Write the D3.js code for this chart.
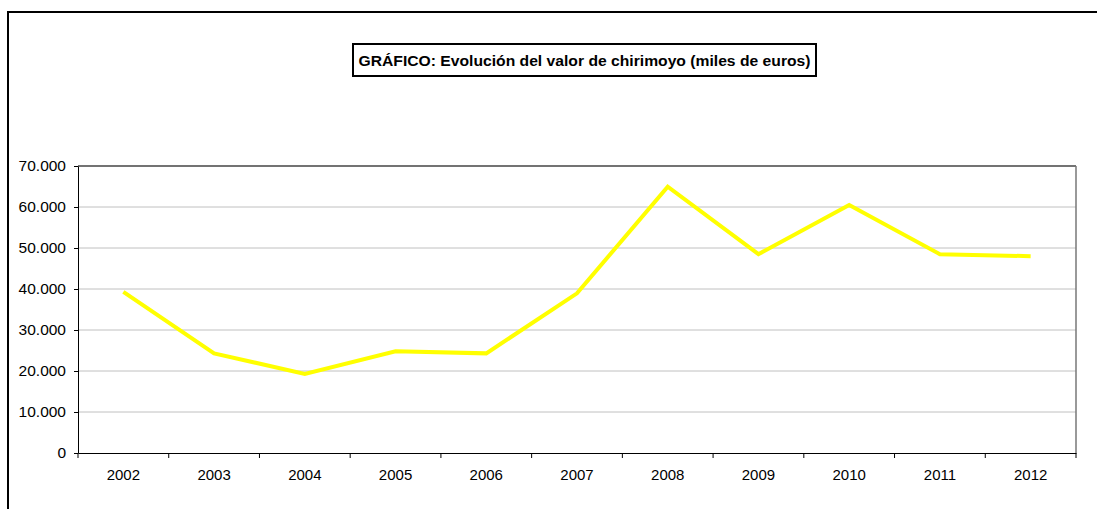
<!DOCTYPE html>
<html>
<head>
<meta charset="utf-8">
<script src="https://cdn.jsdelivr.net/npm/d3@7"></script>
<style>
  body { margin: 0; background: #fff; }
  svg { display: block; font-family: "Liberation Sans", Arial, sans-serif; }
</style>
</head>
<body>
<svg id="chart" width="1097" height="509"></svg>
<script>
const titleText = "GRÁFICO: Evolución del valor de chirimoyo (miles de euros)";
const years = ["2002","2003","2004","2005","2006","2007","2008","2009","2010","2011","2012"];
const values = [39300, 24300, 19300, 24800, 24300, 38950, 64950, 48500, 60500, 48500, 48000];
const yTicks = [0, 10000, 20000, 30000, 40000, 50000, 60000, 70000];

const svg = d3.select("#chart");
const W = 1097, H = 509;
const m = { left: 78, right: 1076, top: 166, bottom: 453 };

// outer frame
svg.append("rect")
  .attr("x", 8).attr("y", 12)
  .attr("width", W + 10).attr("height", H + 10)
  .attr("fill", "none").attr("stroke", "#000").attr("stroke-width", 2);

// title box
const tb = { x: 353, y: 44, w: 463, h: 32 };
svg.append("rect")
  .attr("x", tb.x).attr("y", tb.y).attr("width", tb.w).attr("height", tb.h)
  .attr("fill", "#fff").attr("stroke", "#000").attr("stroke-width", 2);
svg.append("text")
  .attr("x", tb.x + tb.w / 2).attr("y", tb.y + tb.h / 2 + 5.5)
  .attr("text-anchor", "middle")
  .attr("font-size", "15.5px").attr("font-weight", "bold")
  .attr("textLength", 452).attr("lengthAdjust", "spacingAndGlyphs")
  .text(titleText);

const x = d3.scaleBand().domain(years).range([m.left, m.right]);
const y = d3.scaleLinear().domain([0, 70000]).range([m.bottom, m.top]);
const fmt = v => v === 0 ? "0" : d3.format(",")(v).replace(/,/g, ".");

// gridlines
svg.append("g").selectAll("line")
  .data(yTicks.filter(t => t > 0 && t < 70000))
  .join("line")
  .attr("x1", m.left).attr("x2", m.right)
  .attr("y1", d => y(d)).attr("y2", d => y(d))
  .attr("stroke", "#c0c0c0").attr("stroke-width", 1);

// plot border top & right
svg.append("line").attr("x1", m.left).attr("x2", m.right)
  .attr("y1", m.top).attr("y2", m.top).attr("stroke", "#444").attr("stroke-width", 1.5);
svg.append("line").attr("x1", m.right).attr("x2", m.right)
  .attr("y1", m.top).attr("y2", m.bottom).attr("stroke", "#777").attr("stroke-width", 1.5);

// y axis
const yAxis = svg.append("g")
  .attr("transform", `translate(${m.left},0)`)
  .call(d3.axisLeft(y).tickValues(yTicks).tickFormat(fmt).tickSize(4).tickSizeOuter(0));
yAxis.attr("font-size", null).attr("font-family", null);
yAxis.select(".domain").attr("stroke", "#000");
yAxis.selectAll("text").style("font-size", "15.5px").attr("fill", "#000").attr("dx", "-5");

// x axis
const xAxis = svg.append("g")
  .attr("transform", `translate(0,${m.bottom})`)
  .call(d3.axisBottom(x).tickSize(0).tickSizeOuter(0));
xAxis.attr("font-size", null).attr("font-family", null);
xAxis.select(".domain").attr("stroke", "#000");
xAxis.selectAll("text").style("font-size", "15px").attr("fill", "#000").attr("y", 16);
// category boundary ticks
const bounds = years.map(d => x(d)).concat([m.right]);
svg.append("g").selectAll("line").data(bounds).join("line")
  .attr("x1", d => d).attr("x2", d => d)
  .attr("y1", m.bottom).attr("y2", m.bottom + 5)
  .attr("stroke", "#000");

// line
const line = d3.line()
  .x((d, i) => x(years[i]) + x.bandwidth() / 2)
  .y(d => y(d));
svg.append("path")
  .datum(values)
  .attr("d", line)
  .attr("fill", "none")
  .attr("stroke", "#ffff00")
  .attr("stroke-width", 4)
  .attr("stroke-linejoin", "miter");
</script>
</body>
</html>
